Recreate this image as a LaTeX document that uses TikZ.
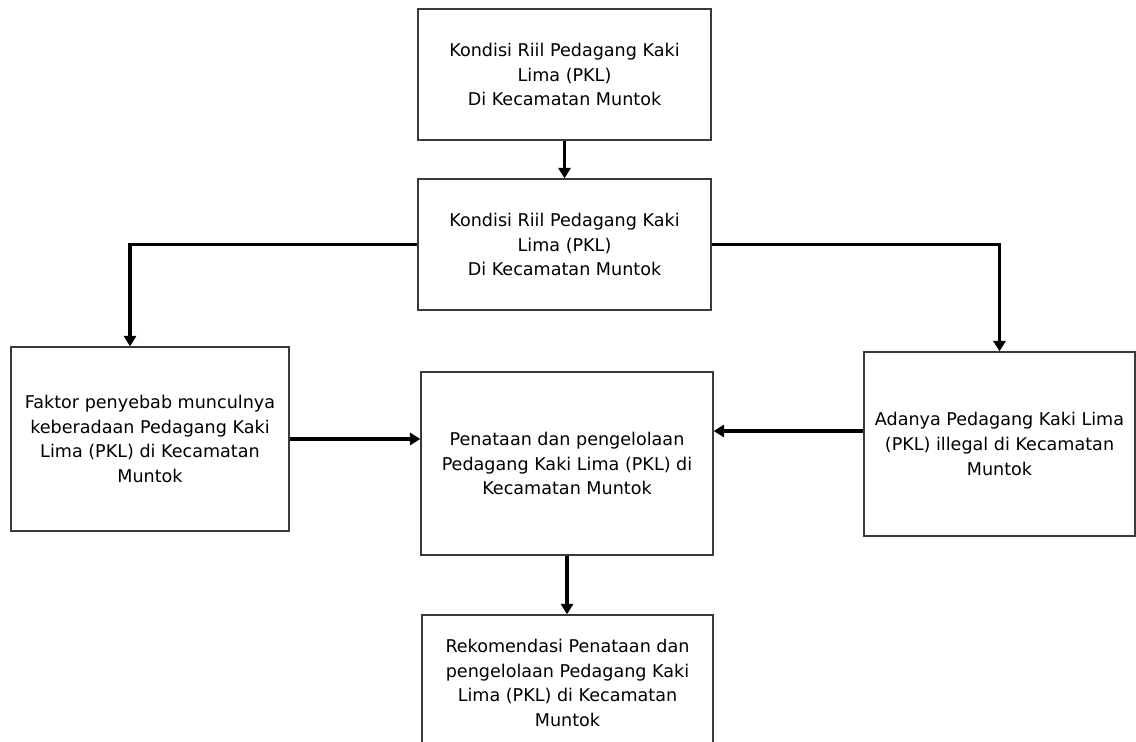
\documentclass[tikz,border=0pt]{standalone}
\usepackage{fontspec}
\setmainfont{DejaVu Sans}
\usetikzlibrary{arrows.meta}
\definecolor{boxline}{HTML}{3A3A3A}

\begin{document}
\begin{tikzpicture}[x=0.02cm, y=-0.02cm,
        every node/.style={font=\fontsize{10}{14}\selectfont, align=center},
        box/.style={draw=boxline, line width=0.8pt, inner sep=0pt},
        arr/.style={-{Triangle[length=6pt,width=7pt]}, line width=1.8pt}
      ]
        \clip (0,0) rectangle (1136,742);
        \node[box, minimum width=5.86cm, minimum height=2.62cm] (riil) at (564.5,74.5) {Kondisi Riil Pedagang Kaki\\Lima (PKL)\\Di Kecamatan Muntok};
        \node[box, minimum width=5.86cm, minimum height=2.62cm] (kondisi) at (564.5,244.5) {Kondisi Riil Pedagang Kaki\\Lima (PKL)\\Di Kecamatan Muntok};
        \node[box, minimum width=5.56cm, minimum height=3.68cm] (faktor) at (150,439) {Faktor penyebab munculnya\\keberadaan Pedagang Kaki\\Lima (PKL) di Kecamatan\\Muntok};
        \node[box, minimum width=5.84cm, minimum height=3.66cm] (penataan) at (567,463.5) {Penataan dan pengelolaan\\Pedagang Kaki Lima (PKL) di\\Kecamatan Muntok};
        \node[box, minimum width=5.42cm, minimum height=3.68cm] (illegal) at (999.5,444) {Adanya Pedagang Kaki Lima\\(PKL) illegal di Kecamatan\\Muntok};
        \node[box, minimum width=5.82cm, minimum height=2.72cm] (rekom) at (567.5,683) {Rekomendasi Penataan dan\\pengelolaan Pedagang Kaki\\Lima (PKL) di Kecamatan\\Muntok};
        \coordinate (i1) at ([yshift=0.26cm]illegal.west);
        \draw[arr] (riil.south) -- (kondisi.north);
        \draw[arr] (kondisi.west) -| ([xshift=-0.4cm]faktor.north);
        \draw[arr] (kondisi.east) -| (illegal.north);
        \draw[arr] (faktor.east) -- (faktor.east -| penataan.west);
        \draw[arr] (i1) -- (i1 -| penataan.east);
        \draw[arr] (penataan.south) -- (penataan.south |- rekom.north);
      \end{tikzpicture}
\end{document}
